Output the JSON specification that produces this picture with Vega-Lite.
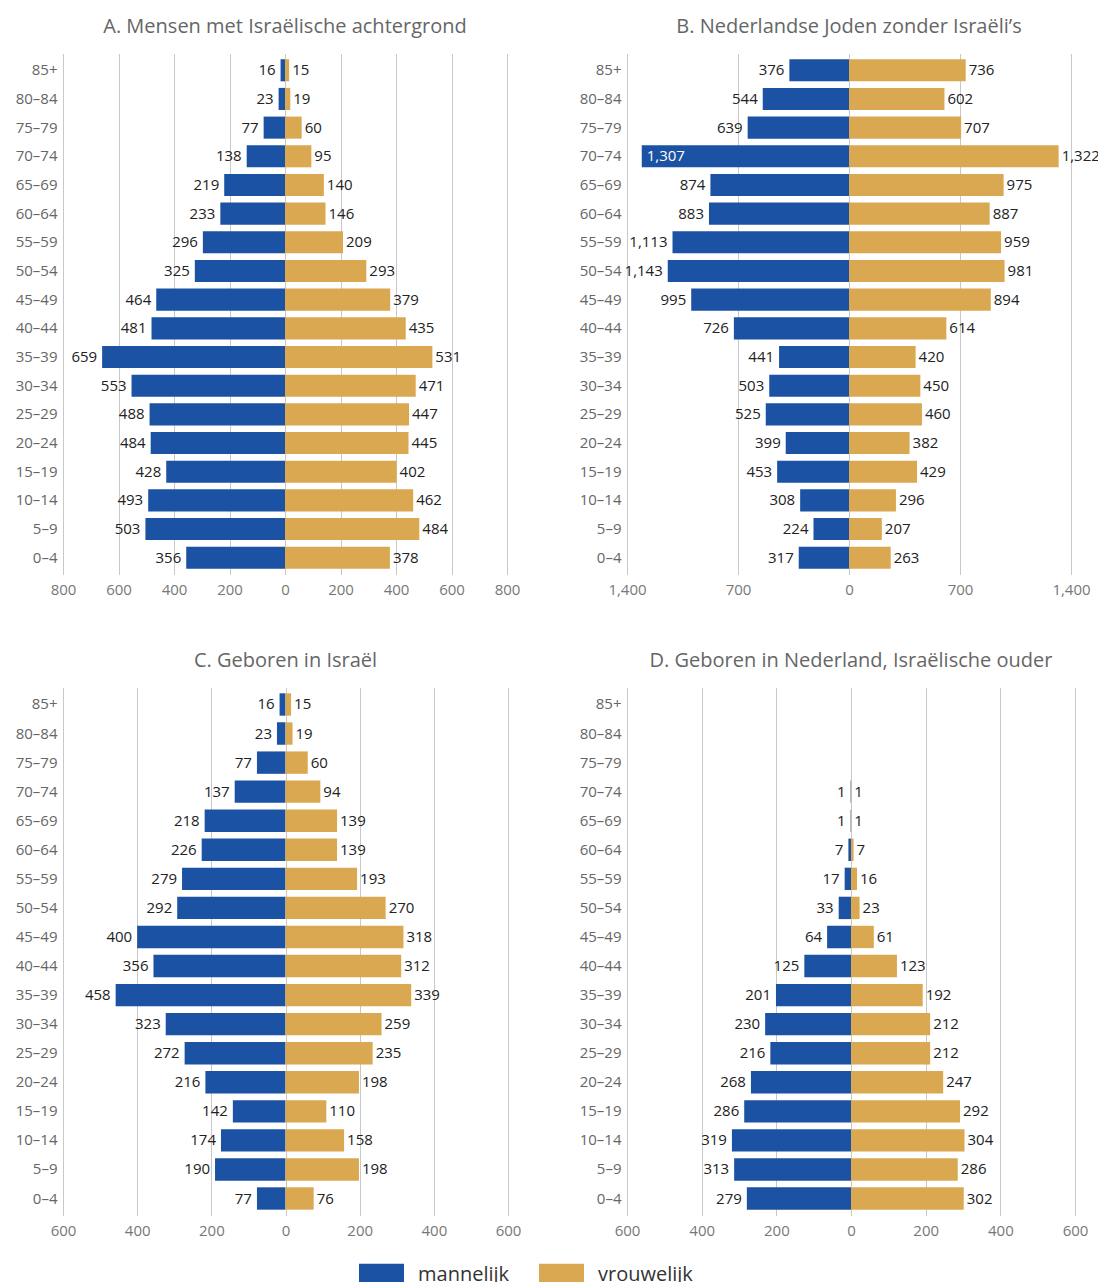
{
  "$schema": "https://vega.github.io/schema/vega-lite/v6.json",
  "padding": {"left": 15, "top": 16.5, "right": 0, "bottom": 5},
  "columns": 2,
  "spacing": {"row": 113, "column": 119},
  "bounds": "flush",
  "datasets": {
    "A": [
      {"age": "85+", "sex": "mannelijk", "n": 16}, {"age": "85+", "sex": "vrouwelijk", "n": 15},
      {"age": "80–84", "sex": "mannelijk", "n": 23}, {"age": "80–84", "sex": "vrouwelijk", "n": 19},
      {"age": "75–79", "sex": "mannelijk", "n": 77}, {"age": "75–79", "sex": "vrouwelijk", "n": 60},
      {"age": "70–74", "sex": "mannelijk", "n": 138}, {"age": "70–74", "sex": "vrouwelijk", "n": 95},
      {"age": "65–69", "sex": "mannelijk", "n": 219}, {"age": "65–69", "sex": "vrouwelijk", "n": 140},
      {"age": "60–64", "sex": "mannelijk", "n": 233}, {"age": "60–64", "sex": "vrouwelijk", "n": 146},
      {"age": "55–59", "sex": "mannelijk", "n": 296}, {"age": "55–59", "sex": "vrouwelijk", "n": 209},
      {"age": "50–54", "sex": "mannelijk", "n": 325}, {"age": "50–54", "sex": "vrouwelijk", "n": 293},
      {"age": "45–49", "sex": "mannelijk", "n": 464}, {"age": "45–49", "sex": "vrouwelijk", "n": 379},
      {"age": "40–44", "sex": "mannelijk", "n": 481}, {"age": "40–44", "sex": "vrouwelijk", "n": 435},
      {"age": "35–39", "sex": "mannelijk", "n": 659}, {"age": "35–39", "sex": "vrouwelijk", "n": 531},
      {"age": "30–34", "sex": "mannelijk", "n": 553}, {"age": "30–34", "sex": "vrouwelijk", "n": 471},
      {"age": "25–29", "sex": "mannelijk", "n": 488}, {"age": "25–29", "sex": "vrouwelijk", "n": 447},
      {"age": "20–24", "sex": "mannelijk", "n": 484}, {"age": "20–24", "sex": "vrouwelijk", "n": 445},
      {"age": "15–19", "sex": "mannelijk", "n": 428}, {"age": "15–19", "sex": "vrouwelijk", "n": 402},
      {"age": "10–14", "sex": "mannelijk", "n": 493}, {"age": "10–14", "sex": "vrouwelijk", "n": 462},
      {"age": "5–9", "sex": "mannelijk", "n": 503}, {"age": "5–9", "sex": "vrouwelijk", "n": 484},
      {"age": "0–4", "sex": "mannelijk", "n": 356}, {"age": "0–4", "sex": "vrouwelijk", "n": 378}
    ],
    "B": [
      {"age": "85+", "sex": "mannelijk", "n": 376}, {"age": "85+", "sex": "vrouwelijk", "n": 736},
      {"age": "80–84", "sex": "mannelijk", "n": 544}, {"age": "80–84", "sex": "vrouwelijk", "n": 602},
      {"age": "75–79", "sex": "mannelijk", "n": 639}, {"age": "75–79", "sex": "vrouwelijk", "n": 707},
      {"age": "70–74", "sex": "mannelijk", "n": 1307}, {"age": "70–74", "sex": "vrouwelijk", "n": 1322},
      {"age": "65–69", "sex": "mannelijk", "n": 874}, {"age": "65–69", "sex": "vrouwelijk", "n": 975},
      {"age": "60–64", "sex": "mannelijk", "n": 883}, {"age": "60–64", "sex": "vrouwelijk", "n": 887},
      {"age": "55–59", "sex": "mannelijk", "n": 1113}, {"age": "55–59", "sex": "vrouwelijk", "n": 959},
      {"age": "50–54", "sex": "mannelijk", "n": 1143}, {"age": "50–54", "sex": "vrouwelijk", "n": 981},
      {"age": "45–49", "sex": "mannelijk", "n": 995}, {"age": "45–49", "sex": "vrouwelijk", "n": 894},
      {"age": "40–44", "sex": "mannelijk", "n": 726}, {"age": "40–44", "sex": "vrouwelijk", "n": 614},
      {"age": "35–39", "sex": "mannelijk", "n": 441}, {"age": "35–39", "sex": "vrouwelijk", "n": 420},
      {"age": "30–34", "sex": "mannelijk", "n": 503}, {"age": "30–34", "sex": "vrouwelijk", "n": 450},
      {"age": "25–29", "sex": "mannelijk", "n": 525}, {"age": "25–29", "sex": "vrouwelijk", "n": 460},
      {"age": "20–24", "sex": "mannelijk", "n": 399}, {"age": "20–24", "sex": "vrouwelijk", "n": 382},
      {"age": "15–19", "sex": "mannelijk", "n": 453}, {"age": "15–19", "sex": "vrouwelijk", "n": 429},
      {"age": "10–14", "sex": "mannelijk", "n": 308}, {"age": "10–14", "sex": "vrouwelijk", "n": 296},
      {"age": "5–9", "sex": "mannelijk", "n": 224}, {"age": "5–9", "sex": "vrouwelijk", "n": 207},
      {"age": "0–4", "sex": "mannelijk", "n": 317}, {"age": "0–4", "sex": "vrouwelijk", "n": 263}
    ],
    "C": [
      {"age": "85+", "sex": "mannelijk", "n": 16}, {"age": "85+", "sex": "vrouwelijk", "n": 15},
      {"age": "80–84", "sex": "mannelijk", "n": 23}, {"age": "80–84", "sex": "vrouwelijk", "n": 19},
      {"age": "75–79", "sex": "mannelijk", "n": 77}, {"age": "75–79", "sex": "vrouwelijk", "n": 60},
      {"age": "70–74", "sex": "mannelijk", "n": 137}, {"age": "70–74", "sex": "vrouwelijk", "n": 94},
      {"age": "65–69", "sex": "mannelijk", "n": 218}, {"age": "65–69", "sex": "vrouwelijk", "n": 139},
      {"age": "60–64", "sex": "mannelijk", "n": 226}, {"age": "60–64", "sex": "vrouwelijk", "n": 139},
      {"age": "55–59", "sex": "mannelijk", "n": 279}, {"age": "55–59", "sex": "vrouwelijk", "n": 193},
      {"age": "50–54", "sex": "mannelijk", "n": 292}, {"age": "50–54", "sex": "vrouwelijk", "n": 270},
      {"age": "45–49", "sex": "mannelijk", "n": 400}, {"age": "45–49", "sex": "vrouwelijk", "n": 318},
      {"age": "40–44", "sex": "mannelijk", "n": 356}, {"age": "40–44", "sex": "vrouwelijk", "n": 312},
      {"age": "35–39", "sex": "mannelijk", "n": 458}, {"age": "35–39", "sex": "vrouwelijk", "n": 339},
      {"age": "30–34", "sex": "mannelijk", "n": 323}, {"age": "30–34", "sex": "vrouwelijk", "n": 259},
      {"age": "25–29", "sex": "mannelijk", "n": 272}, {"age": "25–29", "sex": "vrouwelijk", "n": 235},
      {"age": "20–24", "sex": "mannelijk", "n": 216}, {"age": "20–24", "sex": "vrouwelijk", "n": 198},
      {"age": "15–19", "sex": "mannelijk", "n": 142}, {"age": "15–19", "sex": "vrouwelijk", "n": 110},
      {"age": "10–14", "sex": "mannelijk", "n": 174}, {"age": "10–14", "sex": "vrouwelijk", "n": 158},
      {"age": "5–9", "sex": "mannelijk", "n": 190}, {"age": "5–9", "sex": "vrouwelijk", "n": 198},
      {"age": "0–4", "sex": "mannelijk", "n": 77}, {"age": "0–4", "sex": "vrouwelijk", "n": 76}
    ],
    "D": [
      {"age": "70–74", "sex": "mannelijk", "n": 1}, {"age": "70–74", "sex": "vrouwelijk", "n": 1},
      {"age": "65–69", "sex": "mannelijk", "n": 1}, {"age": "65–69", "sex": "vrouwelijk", "n": 1},
      {"age": "60–64", "sex": "mannelijk", "n": 7}, {"age": "60–64", "sex": "vrouwelijk", "n": 7},
      {"age": "55–59", "sex": "mannelijk", "n": 17}, {"age": "55–59", "sex": "vrouwelijk", "n": 16},
      {"age": "50–54", "sex": "mannelijk", "n": 33}, {"age": "50–54", "sex": "vrouwelijk", "n": 23},
      {"age": "45–49", "sex": "mannelijk", "n": 64}, {"age": "45–49", "sex": "vrouwelijk", "n": 61},
      {"age": "40–44", "sex": "mannelijk", "n": 125}, {"age": "40–44", "sex": "vrouwelijk", "n": 123},
      {"age": "35–39", "sex": "mannelijk", "n": 201}, {"age": "35–39", "sex": "vrouwelijk", "n": 192},
      {"age": "30–34", "sex": "mannelijk", "n": 230}, {"age": "30–34", "sex": "vrouwelijk", "n": 212},
      {"age": "25–29", "sex": "mannelijk", "n": 216}, {"age": "25–29", "sex": "vrouwelijk", "n": 212},
      {"age": "20–24", "sex": "mannelijk", "n": 268}, {"age": "20–24", "sex": "vrouwelijk", "n": 247},
      {"age": "15–19", "sex": "mannelijk", "n": 286}, {"age": "15–19", "sex": "vrouwelijk", "n": 292},
      {"age": "10–14", "sex": "mannelijk", "n": 319}, {"age": "10–14", "sex": "vrouwelijk", "n": 304},
      {"age": "5–9", "sex": "mannelijk", "n": 313}, {"age": "5–9", "sex": "vrouwelijk", "n": 286},
      {"age": "0–4", "sex": "mannelijk", "n": 279}, {"age": "0–4", "sex": "vrouwelijk", "n": 302}
    ]
  },
  "concat": [
    {
      "title": {"text": "A. Mensen met Israëlische achtergrond"},
      "data": {"name": "A"},
      "width": 444, "height": 521,
      "encoding": {"y": {"field": "age", "type": "nominal", "scale": {"domain": ["85+", "80–84", "75–79", "70–74", "65–69", "60–64", "55–59", "50–54", "45–49", "40–44", "35–39", "30–34", "25–29", "20–24", "15–19", "10–14", "5–9", "0–4"], "paddingInner": 0.23, "paddingOuter": 0.2}, "axis": {"title": null}}},
      "layer": [
        {
          "transform": [{"filter": "datum.sex === 'mannelijk'"}],
          "encoding": {"x": {"field": "n", "type": "quantitative", "scale": {"domain": [0, 800], "range": [222, 0]}, "axis": {"orient": "bottom", "values": [200, 400, 600, 800], "title": null, "grid": true, "format": ",d"}}},
          "layer": [
            {"mark": {"type": "bar"}, "encoding": {"color": {"field": "sex", "type": "nominal", "scale": {"domain": ["mannelijk", "vrouwelijk"], "range": ["#1b52a3", "#daa850"]}, "legend": {"title": null, "orient": "none", "legendX": 296, "legendY": 1198.5}}}},
            {"mark": {"type": "text", "align": "right", "dx": -5}, "encoding": {"text": {"field": "n", "type": "quantitative", "format": ","}}}
          ]
        },
        {
          "transform": [{"filter": "datum.sex === 'vrouwelijk'"}],
          "encoding": {"x": {"field": "n", "type": "quantitative", "scale": {"domain": [0, 800], "range": [222, 444]}, "axis": {"orient": "bottom", "values": [0, 200, 400, 600, 800], "title": null, "grid": true, "format": ",d"}}},
          "layer": [
            {"mark": {"type": "bar"}, "encoding": {"color": {"field": "sex", "type": "nominal", "scale": {"domain": ["mannelijk", "vrouwelijk"], "range": ["#1b52a3", "#daa850"]}, "legend": {"title": null, "orient": "none", "legendX": 296, "legendY": 1198.5}}}},
            {"mark": {"type": "text", "align": "left", "dx": 3}, "encoding": {"text": {"field": "n", "type": "quantitative", "format": ","}}}
          ]
        }
      ],
      "resolve": {"scale": {"x": "independent"}}
    },
    {
      "title": {"text": "B. Nederlandse Joden zonder Israëli’s"},
      "data": {"name": "B"},
      "width": 444, "height": 521,
      "encoding": {"y": {"field": "age", "type": "nominal", "scale": {"domain": ["85+", "80–84", "75–79", "70–74", "65–69", "60–64", "55–59", "50–54", "45–49", "40–44", "35–39", "30–34", "25–29", "20–24", "15–19", "10–14", "5–9", "0–4"], "paddingInner": 0.23, "paddingOuter": 0.2}, "axis": {"title": null}}},
      "layer": [
        {
          "transform": [{"filter": "datum.sex === 'mannelijk'"}],
          "encoding": {"x": {"field": "n", "type": "quantitative", "scale": {"domain": [0, 1400], "range": [222, 0]}, "axis": {"orient": "bottom", "values": [700, 1400], "title": null, "grid": true, "format": ",d"}}},
          "layer": [
            {"mark": {"type": "bar"}, "encoding": {"color": {"field": "sex", "type": "nominal", "scale": {"domain": ["mannelijk", "vrouwelijk"], "range": ["#1b52a3", "#daa850"]}, "legend": {"title": null, "orient": "none", "legendX": 296, "legendY": 1198.5}}}},
            {"transform": [{"filter": "datum.n <= 1200"}], "mark": {"type": "text", "align": "right", "dx": -5}, "encoding": {"text": {"field": "n", "type": "quantitative", "format": ","}}},
            {"transform": [{"filter": "datum.n > 1200"}], "mark": {"type": "text", "align": "left", "dx": 5, "color": "#ffffff"}, "encoding": {"text": {"field": "n", "type": "quantitative", "format": ","}}}
          ]
        },
        {
          "transform": [{"filter": "datum.sex === 'vrouwelijk'"}],
          "encoding": {"x": {"field": "n", "type": "quantitative", "scale": {"domain": [0, 1400], "range": [222, 444]}, "axis": {"orient": "bottom", "values": [0, 700, 1400], "title": null, "grid": true, "format": ",d"}}},
          "layer": [
            {"mark": {"type": "bar"}, "encoding": {"color": {"field": "sex", "type": "nominal", "scale": {"domain": ["mannelijk", "vrouwelijk"], "range": ["#1b52a3", "#daa850"]}, "legend": {"title": null, "orient": "none", "legendX": 296, "legendY": 1198.5}}}},
            {"mark": {"type": "text", "align": "left", "dx": 3}, "encoding": {"text": {"field": "n", "type": "quantitative", "format": ","}}}
          ]
        }
      ],
      "resolve": {"scale": {"x": "independent"}}
    },
    {
      "title": {"text": "C. Geboren in Israël"},
      "data": {"name": "C"},
      "width": 445, "height": 528,
      "encoding": {"y": {"field": "age", "type": "nominal", "scale": {"domain": ["85+", "80–84", "75–79", "70–74", "65–69", "60–64", "55–59", "50–54", "45–49", "40–44", "35–39", "30–34", "25–29", "20–24", "15–19", "10–14", "5–9", "0–4"], "paddingInner": 0.23, "paddingOuter": 0.2}, "axis": {"title": null}}},
      "layer": [
        {
          "transform": [{"filter": "datum.sex === 'mannelijk'"}],
          "encoding": {"x": {"field": "n", "type": "quantitative", "scale": {"domain": [0, 600], "range": [222.5, 0]}, "axis": {"orient": "bottom", "values": [200, 400, 600], "title": null, "grid": true, "format": ",d"}}},
          "layer": [
            {"mark": {"type": "bar"}, "encoding": {"color": {"field": "sex", "type": "nominal", "scale": {"domain": ["mannelijk", "vrouwelijk"], "range": ["#1b52a3", "#daa850"]}, "legend": {"title": null, "orient": "none", "legendX": 296, "legendY": 1198.5}}}},
            {"mark": {"type": "text", "align": "right", "dx": -5}, "encoding": {"text": {"field": "n", "type": "quantitative", "format": ","}}}
          ]
        },
        {
          "transform": [{"filter": "datum.sex === 'vrouwelijk'"}],
          "encoding": {"x": {"field": "n", "type": "quantitative", "scale": {"domain": [0, 600], "range": [222.5, 445]}, "axis": {"orient": "bottom", "values": [0, 200, 400, 600], "title": null, "grid": true, "format": ",d"}}},
          "layer": [
            {"mark": {"type": "bar"}, "encoding": {"color": {"field": "sex", "type": "nominal", "scale": {"domain": ["mannelijk", "vrouwelijk"], "range": ["#1b52a3", "#daa850"]}, "legend": {"title": null, "orient": "none", "legendX": 296, "legendY": 1198.5}}}},
            {"mark": {"type": "text", "align": "left", "dx": 3}, "encoding": {"text": {"field": "n", "type": "quantitative", "format": ","}}}
          ]
        }
      ],
      "resolve": {"scale": {"x": "independent"}}
    },
    {
      "title": {"text": "D. Geboren in Nederland, Israëlische ouder"},
      "data": {"name": "D"},
      "width": 448, "height": 528,
      "encoding": {"y": {"field": "age", "type": "nominal", "scale": {"domain": ["85+", "80–84", "75–79", "70–74", "65–69", "60–64", "55–59", "50–54", "45–49", "40–44", "35–39", "30–34", "25–29", "20–24", "15–19", "10–14", "5–9", "0–4"], "paddingInner": 0.23, "paddingOuter": 0.2}, "axis": {"title": null}}},
      "layer": [
        {
          "transform": [{"filter": "datum.sex === 'mannelijk'"}],
          "encoding": {"x": {"field": "n", "type": "quantitative", "scale": {"domain": [0, 600], "range": [224, 0]}, "axis": {"orient": "bottom", "values": [200, 400, 600], "title": null, "grid": true, "format": ",d"}}},
          "layer": [
            {"mark": {"type": "bar"}, "encoding": {"color": {"field": "sex", "type": "nominal", "scale": {"domain": ["mannelijk", "vrouwelijk"], "range": ["#1b52a3", "#daa850"]}, "legend": {"title": null, "orient": "none", "legendX": 296, "legendY": 1198.5}}}},
            {"mark": {"type": "text", "align": "right", "dx": -5}, "encoding": {"text": {"field": "n", "type": "quantitative", "format": ","}}}
          ]
        },
        {
          "transform": [{"filter": "datum.sex === 'vrouwelijk'"}],
          "encoding": {"x": {"field": "n", "type": "quantitative", "scale": {"domain": [0, 600], "range": [224, 448]}, "axis": {"orient": "bottom", "values": [0, 200, 400, 600], "title": null, "grid": true, "format": ",d"}}},
          "layer": [
            {"mark": {"type": "bar"}, "encoding": {"color": {"field": "sex", "type": "nominal", "scale": {"domain": ["mannelijk", "vrouwelijk"], "range": ["#1b52a3", "#daa850"]}, "legend": {"title": null, "orient": "none", "legendX": 296, "legendY": 1198.5}}}},
            {"mark": {"type": "text", "align": "left", "dx": 3}, "encoding": {"text": {"field": "n", "type": "quantitative", "format": ","}}}
          ]
        }
      ],
      "resolve": {"scale": {"x": "independent"}}
    }
  ],
  "config": {
    "font": "Open Sans",
    "view": {"stroke": null},
    "title": {"fontSize": 20, "fontWeight": "normal", "color": "#666666", "anchor": "middle", "frame": "group", "offset": 17},
    "text": {"fontSize": 15, "color": "#222222"},
    "axisY": {"labelFontSize": 15, "labelColor": "#666666", "labelPadding": 6, "ticks": false, "domain": false, "grid": false},
    "axisX": {"labelFontSize": 15, "labelColor": "#777777", "labelPadding": 8, "labelFlush": false, "ticks": false, "domain": false, "grid": true, "gridColor": "#c8c8c8"},
    "legend": {"direction": "horizontal", "symbolType": "M-1,-0.49H1V0.49H-1Z", "symbolSize": 2025, "symbolStrokeWidth": 0, "symbolOpacity": 1, "labelFontSize": 20, "labelColor": "#333333", "labelOffset": 14, "columnPadding": 29}
  }
}
